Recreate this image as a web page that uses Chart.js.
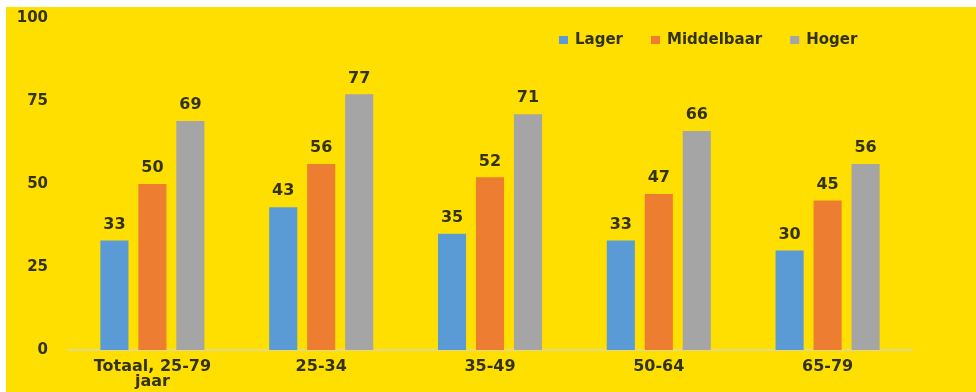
<!DOCTYPE html>
<html>
<head>
<meta charset="utf-8">
<script src="https://cdn.jsdelivr.net/npm/chart.js@4/dist/chart.umd.min.js"></script>
<style>
  html, body { margin: 0; padding: 0; background: #fff; }
  #wrap { position: absolute; left: 6px; top: 7px; width: 970px; height: 385px; background: #ffdf00; }
</style>
</head>
<body>
<div id="wrap"><canvas id="chart" width="970" height="385"></canvas></div>
<script>
// categories and series
const categories = [['Totaal, 25-79', 'jaar'], '25-34', '35-49', '50-64', '65-79'];
const lager = [33, 43, 35, 33, 30];
const middelbaar = [50, 56, 52, 47, 45];
const hoger = [69, 77, 71, 66, 56];
const yTicks = [0, 25, 50, 75, 100];

const FONT = '"DejaVu Sans", sans-serif';
const TEXT = '#33330f';

// value labels above each bar
const valueLabels = {
  id: 'valueLabels',
  afterDatasetsDraw(chart) {
    const ctx = chart.ctx;
    ctx.save();
    ctx.font = 'bold 16px ' + FONT;
    ctx.fillStyle = TEXT;
    ctx.textAlign = 'center';
    ctx.textBaseline = 'bottom';
    chart.data.datasets.forEach((ds, i) => {
      chart.getDatasetMeta(i).data.forEach((bar, j) => {
        ctx.fillText(ds.data[j], bar.x, bar.y - 8);
      });
    });
    ctx.restore();
  }
};

// legend drawn inside the plot, top right
const topLegend = {
  id: 'topLegend',
  afterDraw(chart) {
    const ctx = chart.ctx;
    ctx.save();
    ctx.font = 'bold 15px ' + FONT;
    ctx.textBaseline = 'middle';
    let x = 553;
    const y = 33;
    chart.data.datasets.forEach((ds) => {
      ctx.fillStyle = ds.backgroundColor;
      ctx.fillRect(x, y - 4, 9, 8);
      ctx.fillStyle = TEXT;
      ctx.fillText(ds.label, x + 16, y);
      x += 16 + ctx.measureText(ds.label).width + 28;
    });
    ctx.restore();
  }
};

new Chart(document.getElementById('chart'), {
  type: 'bar',
  data: {
    labels: categories,
    datasets: [
      { label: 'Lager', data: lager, backgroundColor: '#5b9bd5' },
      { label: 'Middelbaar', data: middelbaar, backgroundColor: '#ed7d31' },
      { label: 'Hoger', data: hoger, backgroundColor: '#a5a5a5' },
    ],
  },
  options: {
    responsive: false,
    animation: false,
    categoryPercentage: 0.675,
    barPercentage: 0.74,
    layout: { padding: { left: 0, right: 64, top: 11, bottom: 0 } },
    plugins: {
      legend: { display: false },
      tooltip: { enabled: false },
    },
    scales: {
      x: {
        grid: { display: false, drawTicks: false },
        border: { display: true, color: '#e3d98a', width: 2 },
        ticks: {
          color: TEXT,
          font: { family: FONT, size: 16, weight: 'bold', lineHeight: 0.9 },
          padding: 10,
          maxRotation: 0,
        },
        afterFit: (scale) => { scale.height = 42; scale.paddingLeft = 0; scale.paddingRight = 0; },
      },
      y: {
        min: 0,
        max: 100,
        afterBuildTicks: (scale) => { scale.ticks = yTicks.map((v) => ({ value: v })); },
        grid: { display: false, drawTicks: false },
        border: { display: false },
        ticks: {
          color: TEXT,
          font: { family: FONT, size: 15, weight: 'bold' },
          padding: 20,
        },
        afterFit: (scale) => { scale.width = 62; scale.paddingTop = 0; scale.paddingBottom = 0; },
      },
    },
  },
  plugins: [valueLabels, topLegend],
});
</script>
</body>
</html>
